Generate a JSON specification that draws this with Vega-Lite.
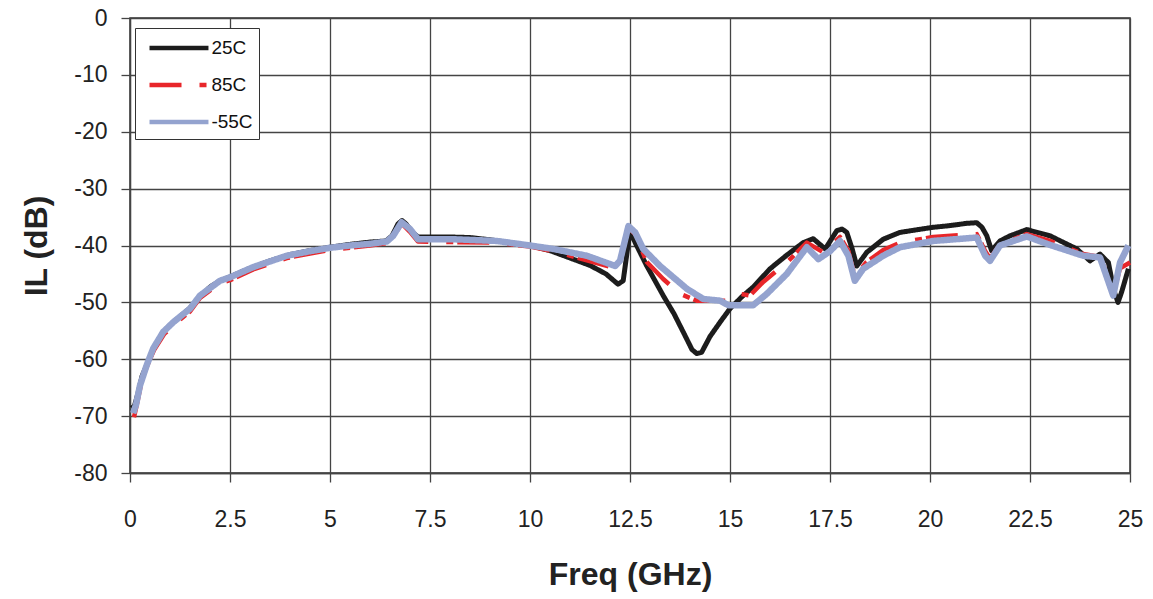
{
  "$schema": "https://vega.github.io/schema/vega-lite/v6.json",
  "width": 1000,
  "height": 455,
  "autosize": {"type": "none"},
  "padding": {"left": 130, "top": 18, "right": 23, "bottom": 126},
  "background": "white",
  "config": {
    "font": "Liberation Sans",
    "view": {"stroke": "#333", "strokeWidth": 1.5},
    "axis": {
      "labelFont": "Liberation Sans",
      "labelFontSize": 23,
      "labelColor": "#222",
      "titleFont": "Liberation Sans",
      "titleFontSize": 32,
      "titleFontWeight": "bold",
      "titleColor": "#222",
      "gridColor": "#444",
      "gridWidth": 1.3,
      "gridOpacity": 1,
      "domainColor": "#444",
      "domainWidth": 1.3,
      "tickColor": "#444",
      "tickWidth": 1.3,
      "tickSize": 9
    }
  },
  "data": {
    "values": [
      {"f": 0.05, "il": -68, "s": "25C"},
      {"f": 0.1, "il": -68.5, "s": "25C"},
      {"f": 0.2, "il": -66, "s": "25C"},
      {"f": 0.3, "il": -63, "s": "25C"},
      {"f": 0.45, "il": -60.5, "s": "25C"},
      {"f": 0.6, "il": -58, "s": "25C"},
      {"f": 0.8, "il": -55.5, "s": "25C"},
      {"f": 1.0, "il": -54, "s": "25C"},
      {"f": 1.25, "il": -52.5, "s": "25C"},
      {"f": 1.5, "il": -51, "s": "25C"},
      {"f": 1.75, "il": -49, "s": "25C"},
      {"f": 2.0, "il": -47.3, "s": "25C"},
      {"f": 2.25, "il": -46.2, "s": "25C"},
      {"f": 2.5, "il": -45.5, "s": "25C"},
      {"f": 3.0, "il": -44, "s": "25C"},
      {"f": 3.5, "il": -42.7, "s": "25C"},
      {"f": 4.0, "il": -41.6, "s": "25C"},
      {"f": 4.5, "il": -40.9, "s": "25C"},
      {"f": 5.0, "il": -40.3, "s": "25C"},
      {"f": 5.5, "il": -39.8, "s": "25C"},
      {"f": 6.0, "il": -39.4, "s": "25C"},
      {"f": 6.4, "il": -39.2, "s": "25C"},
      {"f": 6.55, "il": -38.3, "s": "25C"},
      {"f": 6.7, "il": -36.2, "s": "25C"},
      {"f": 6.8, "il": -35.6, "s": "25C"},
      {"f": 6.9, "il": -36.2, "s": "25C"},
      {"f": 7.05, "il": -37.6, "s": "25C"},
      {"f": 7.2, "il": -38.5, "s": "25C"},
      {"f": 7.5, "il": -38.5, "s": "25C"},
      {"f": 8.0, "il": -38.5, "s": "25C"},
      {"f": 8.5, "il": -38.6, "s": "25C"},
      {"f": 9.0, "il": -39, "s": "25C"},
      {"f": 9.5, "il": -39.5, "s": "25C"},
      {"f": 10.0, "il": -40, "s": "25C"},
      {"f": 10.5, "il": -40.9, "s": "25C"},
      {"f": 11.0, "il": -42.2, "s": "25C"},
      {"f": 11.5, "il": -43.5, "s": "25C"},
      {"f": 11.9, "il": -45, "s": "25C"},
      {"f": 12.2, "il": -46.8, "s": "25C"},
      {"f": 12.33, "il": -46.2, "s": "25C"},
      {"f": 12.5, "il": -37.4, "s": "25C"},
      {"f": 12.63, "il": -39.5, "s": "25C"},
      {"f": 12.92, "il": -43.6, "s": "25C"},
      {"f": 13.33, "il": -48.8, "s": "25C"},
      {"f": 13.6, "il": -52, "s": "25C"},
      {"f": 13.83, "il": -55.2, "s": "25C"},
      {"f": 14.05, "il": -58.3, "s": "25C"},
      {"f": 14.17, "il": -59, "s": "25C"},
      {"f": 14.29, "il": -58.8, "s": "25C"},
      {"f": 14.5, "il": -56, "s": "25C"},
      {"f": 14.75, "il": -53.5, "s": "25C"},
      {"f": 15.0, "il": -51.1, "s": "25C"},
      {"f": 15.3, "il": -49, "s": "25C"},
      {"f": 15.58, "il": -47.3, "s": "25C"},
      {"f": 16.0, "il": -44.1, "s": "25C"},
      {"f": 16.4, "il": -41.8, "s": "25C"},
      {"f": 16.83, "il": -39.5, "s": "25C"},
      {"f": 17.08, "il": -38.8, "s": "25C"},
      {"f": 17.38, "il": -40.6, "s": "25C"},
      {"f": 17.67, "il": -37.4, "s": "25C"},
      {"f": 17.8, "il": -37.1, "s": "25C"},
      {"f": 17.92, "il": -37.7, "s": "25C"},
      {"f": 18.05, "il": -40.5, "s": "25C"},
      {"f": 18.17, "il": -43.6, "s": "25C"},
      {"f": 18.42, "il": -41.2, "s": "25C"},
      {"f": 18.83, "il": -38.9, "s": "25C"},
      {"f": 19.25, "il": -37.7, "s": "25C"},
      {"f": 19.7, "il": -37.2, "s": "25C"},
      {"f": 20.08, "il": -36.8, "s": "25C"},
      {"f": 20.5, "il": -36.5, "s": "25C"},
      {"f": 20.92, "il": -36.1, "s": "25C"},
      {"f": 21.17, "il": -36, "s": "25C"},
      {"f": 21.3, "il": -36.8, "s": "25C"},
      {"f": 21.42, "il": -38.3, "s": "25C"},
      {"f": 21.54, "il": -40.9, "s": "25C"},
      {"f": 21.75, "il": -39.2, "s": "25C"},
      {"f": 22.0, "il": -38.3, "s": "25C"},
      {"f": 22.42, "il": -37.2, "s": "25C"},
      {"f": 23.0, "il": -38.3, "s": "25C"},
      {"f": 23.67, "il": -40.6, "s": "25C"},
      {"f": 24.0, "il": -42.7, "s": "25C"},
      {"f": 24.25, "il": -41.5, "s": "25C"},
      {"f": 24.46, "il": -43, "s": "25C"},
      {"f": 24.6, "il": -48, "s": "25C"},
      {"f": 24.7, "il": -50, "s": "25C"},
      {"f": 24.79, "il": -48.2, "s": "25C"},
      {"f": 24.96, "il": -44.1, "s": "25C"},

      {"f": 0.1, "il": -70.2, "s": "85C"},
      {"f": 0.2, "il": -67, "s": "85C"},
      {"f": 0.3, "il": -63.5, "s": "85C"},
      {"f": 0.45, "il": -60.8, "s": "85C"},
      {"f": 0.6, "il": -58.4, "s": "85C"},
      {"f": 0.85, "il": -55.6, "s": "85C"},
      {"f": 1.1, "il": -53.9, "s": "85C"},
      {"f": 1.5, "il": -51.6, "s": "85C"},
      {"f": 1.75, "il": -49.2, "s": "85C"},
      {"f": 2.25, "il": -46.6, "s": "85C"},
      {"f": 2.5, "il": -46.1, "s": "85C"},
      {"f": 3.08, "il": -44.2, "s": "85C"},
      {"f": 3.92, "il": -42.2, "s": "85C"},
      {"f": 4.5, "il": -41.4, "s": "85C"},
      {"f": 5.0, "il": -40.8, "s": "85C"},
      {"f": 5.5, "il": -40.4, "s": "85C"},
      {"f": 6.0, "il": -40, "s": "85C"},
      {"f": 6.42, "il": -39.6, "s": "85C"},
      {"f": 6.58, "il": -38.6, "s": "85C"},
      {"f": 6.79, "il": -36.1, "s": "85C"},
      {"f": 7.0, "il": -37.6, "s": "85C"},
      {"f": 7.2, "il": -39.3, "s": "85C"},
      {"f": 8.08, "il": -39.4, "s": "85C"},
      {"f": 9.17, "il": -39.5, "s": "85C"},
      {"f": 10.0, "il": -40.2, "s": "85C"},
      {"f": 10.58, "il": -41, "s": "85C"},
      {"f": 11.42, "il": -42.6, "s": "85C"},
      {"f": 12.13, "il": -44, "s": "85C"},
      {"f": 12.25, "il": -43, "s": "85C"},
      {"f": 12.46, "il": -36.8, "s": "85C"},
      {"f": 12.63, "il": -38, "s": "85C"},
      {"f": 12.92, "il": -42.9, "s": "85C"},
      {"f": 13.33, "il": -45.9, "s": "85C"},
      {"f": 13.75, "il": -48.5, "s": "85C"},
      {"f": 14.17, "il": -49.7, "s": "85C"},
      {"f": 14.9, "il": -49.7, "s": "85C"},
      {"f": 15.25, "il": -48.5, "s": "85C"},
      {"f": 15.5, "il": -48.8, "s": "85C"},
      {"f": 15.83, "il": -46.4, "s": "85C"},
      {"f": 16.42, "il": -43, "s": "85C"},
      {"f": 16.92, "il": -39.5, "s": "85C"},
      {"f": 17.33, "il": -41.2, "s": "85C"},
      {"f": 17.75, "il": -38.5, "s": "85C"},
      {"f": 17.96, "il": -41, "s": "85C"},
      {"f": 18.12, "il": -45.5, "s": "85C"},
      {"f": 18.4, "il": -43, "s": "85C"},
      {"f": 18.83, "il": -40.8, "s": "85C"},
      {"f": 19.25, "il": -39.5, "s": "85C"},
      {"f": 20.08, "il": -38.5, "s": "85C"},
      {"f": 21.17, "il": -38, "s": "85C"},
      {"f": 21.38, "il": -41, "s": "85C"},
      {"f": 21.5, "il": -42.3, "s": "85C"},
      {"f": 21.75, "il": -39.8, "s": "85C"},
      {"f": 22.42, "il": -38, "s": "85C"},
      {"f": 23.0, "il": -39.2, "s": "85C"},
      {"f": 23.83, "il": -41.5, "s": "85C"},
      {"f": 24.25, "il": -42, "s": "85C"},
      {"f": 24.6, "il": -48, "s": "85C"},
      {"f": 24.75, "il": -44, "s": "85C"},
      {"f": 25.0, "il": -43, "s": "85C"},

      {"f": 0.08, "il": -69.5, "s": "-55C"},
      {"f": 0.15, "il": -68, "s": "-55C"},
      {"f": 0.25, "il": -64.6, "s": "-55C"},
      {"f": 0.42, "il": -61, "s": "-55C"},
      {"f": 0.58, "il": -58.1, "s": "-55C"},
      {"f": 0.83, "il": -55.2, "s": "-55C"},
      {"f": 1.08, "il": -53.5, "s": "-55C"},
      {"f": 1.5, "il": -51.1, "s": "-55C"},
      {"f": 1.75, "il": -48.8, "s": "-55C"},
      {"f": 2.25, "il": -46.2, "s": "-55C"},
      {"f": 2.5, "il": -45.6, "s": "-55C"},
      {"f": 3.08, "il": -43.8, "s": "-55C"},
      {"f": 3.92, "il": -41.8, "s": "-55C"},
      {"f": 4.5, "il": -41, "s": "-55C"},
      {"f": 5.0, "il": -40.4, "s": "-55C"},
      {"f": 5.5, "il": -40, "s": "-55C"},
      {"f": 6.0, "il": -39.7, "s": "-55C"},
      {"f": 6.42, "il": -39.3, "s": "-55C"},
      {"f": 6.58, "il": -38.3, "s": "-55C"},
      {"f": 6.79, "il": -35.9, "s": "-55C"},
      {"f": 7.0, "il": -37.1, "s": "-55C"},
      {"f": 7.2, "il": -38.9, "s": "-55C"},
      {"f": 8.08, "il": -38.9, "s": "-55C"},
      {"f": 9.17, "il": -39.2, "s": "-55C"},
      {"f": 10.0, "il": -40, "s": "-55C"},
      {"f": 10.58, "il": -40.6, "s": "-55C"},
      {"f": 11.42, "il": -41.8, "s": "-55C"},
      {"f": 12.13, "il": -43.6, "s": "-55C"},
      {"f": 12.25, "il": -42.7, "s": "-55C"},
      {"f": 12.46, "il": -36.6, "s": "-55C"},
      {"f": 12.63, "il": -37.7, "s": "-55C"},
      {"f": 12.83, "il": -40.6, "s": "-55C"},
      {"f": 13.25, "il": -43.6, "s": "-55C"},
      {"f": 13.92, "il": -47.6, "s": "-55C"},
      {"f": 14.33, "il": -49.4, "s": "-55C"},
      {"f": 14.75, "il": -49.7, "s": "-55C"},
      {"f": 14.96, "il": -50.5, "s": "-55C"},
      {"f": 15.58, "il": -50.5, "s": "-55C"},
      {"f": 15.92, "il": -48.5, "s": "-55C"},
      {"f": 16.42, "il": -45, "s": "-55C"},
      {"f": 16.92, "il": -40.3, "s": "-55C"},
      {"f": 17.21, "il": -42.4, "s": "-55C"},
      {"f": 17.5, "il": -41, "s": "-55C"},
      {"f": 17.75, "il": -39.2, "s": "-55C"},
      {"f": 17.96, "il": -41.8, "s": "-55C"},
      {"f": 18.12, "il": -46.2, "s": "-55C"},
      {"f": 18.33, "il": -44.1, "s": "-55C"},
      {"f": 18.83, "il": -41.8, "s": "-55C"},
      {"f": 19.25, "il": -40.3, "s": "-55C"},
      {"f": 20.08, "il": -39.2, "s": "-55C"},
      {"f": 21.17, "il": -38.6, "s": "-55C"},
      {"f": 21.38, "il": -41.8, "s": "-55C"},
      {"f": 21.5, "il": -42.7, "s": "-55C"},
      {"f": 21.75, "il": -40, "s": "-55C"},
      {"f": 22.42, "il": -38.4, "s": "-55C"},
      {"f": 23.0, "il": -39.9, "s": "-55C"},
      {"f": 23.83, "il": -41.8, "s": "-55C"},
      {"f": 24.25, "il": -42.1, "s": "-55C"},
      {"f": 24.58, "il": -48.8, "s": "-55C"},
      {"f": 24.75, "il": -43, "s": "-55C"},
      {"f": 24.96, "il": -40, "s": "-55C"}
    ]
  },
  "encoding": {
    "x": {
      "field": "f",
      "type": "quantitative",
      "title": "Freq (GHz)",
      "scale": {"domain": [0, 25], "nice": false},
      "axis": {
        "values": [0, 2.5, 5, 7.5, 10, 12.5, 15, 17.5, 20, 22.5, 25],
        "labelExpr": "'' + datum.value",
        "labelPadding": 26,
        "titlePadding": 28,
        "labelFlush": false
      }
    },
    "y": {
      "field": "il",
      "type": "quantitative",
      "title": "IL (dB)",
      "scale": {"domain": [-80, 0], "nice": false},
      "axis": {
        "values": [-80, -70, -60, -50, -40, -30, -20, -10, 0],
        "labelExpr": "'' + datum.value",
        "labelPadding": 14,
        "titlePadding": 20
      }
    },
    "color": {
      "field": "s",
      "type": "nominal",
      "sort": ["25C", "85C", "-55C"],
      "scale": {"domain": ["25C", "85C", "-55C"], "range": ["#1c1c1c", "#e8262a", "#94a3cf"]},
      "legend": {
        "title": null,
        "orient": "none",
        "legendX": 5,
        "legendY": 10,
        "symbolType": "M-0.49,0L4.87,0",
        "symbolSize": 484,
        "symbolStrokeWidth": 4.5,
        "labelFont": "Liberation Sans",
        "labelFontSize": 19,
        "labelColor": "#111",
        "labelOffset": 43,
        "rowPadding": 13,
        "padding": 6.4,
        "strokeColor": "#333",
        "fillColor": "white"
      }
    },
    "strokeDash": {
      "field": "s",
      "type": "nominal",
      "sort": ["25C", "85C", "-55C"],
      "scale": {"domain": ["25C", "85C", "-55C"], "range": [[1, 0], [32, 18, 7, 4], [1, 0]]},
      "legend": null
    }
  },
  "layer": [
    {
      "transform": [{"filter": "datum.s === '25C'"}],
      "mark": {"type": "line", "strokeWidth": 5, "strokeJoin": "round"}
    },
    {
      "transform": [{"filter": "datum.s === '85C'"}],
      "mark": {"type": "line", "strokeWidth": 4.5, "strokeJoin": "round"}
    },
    {
      "transform": [{"filter": "datum.s === '-55C'"}],
      "mark": {"type": "line", "strokeWidth": 6.5, "strokeJoin": "round"}
    }
  ]
}
